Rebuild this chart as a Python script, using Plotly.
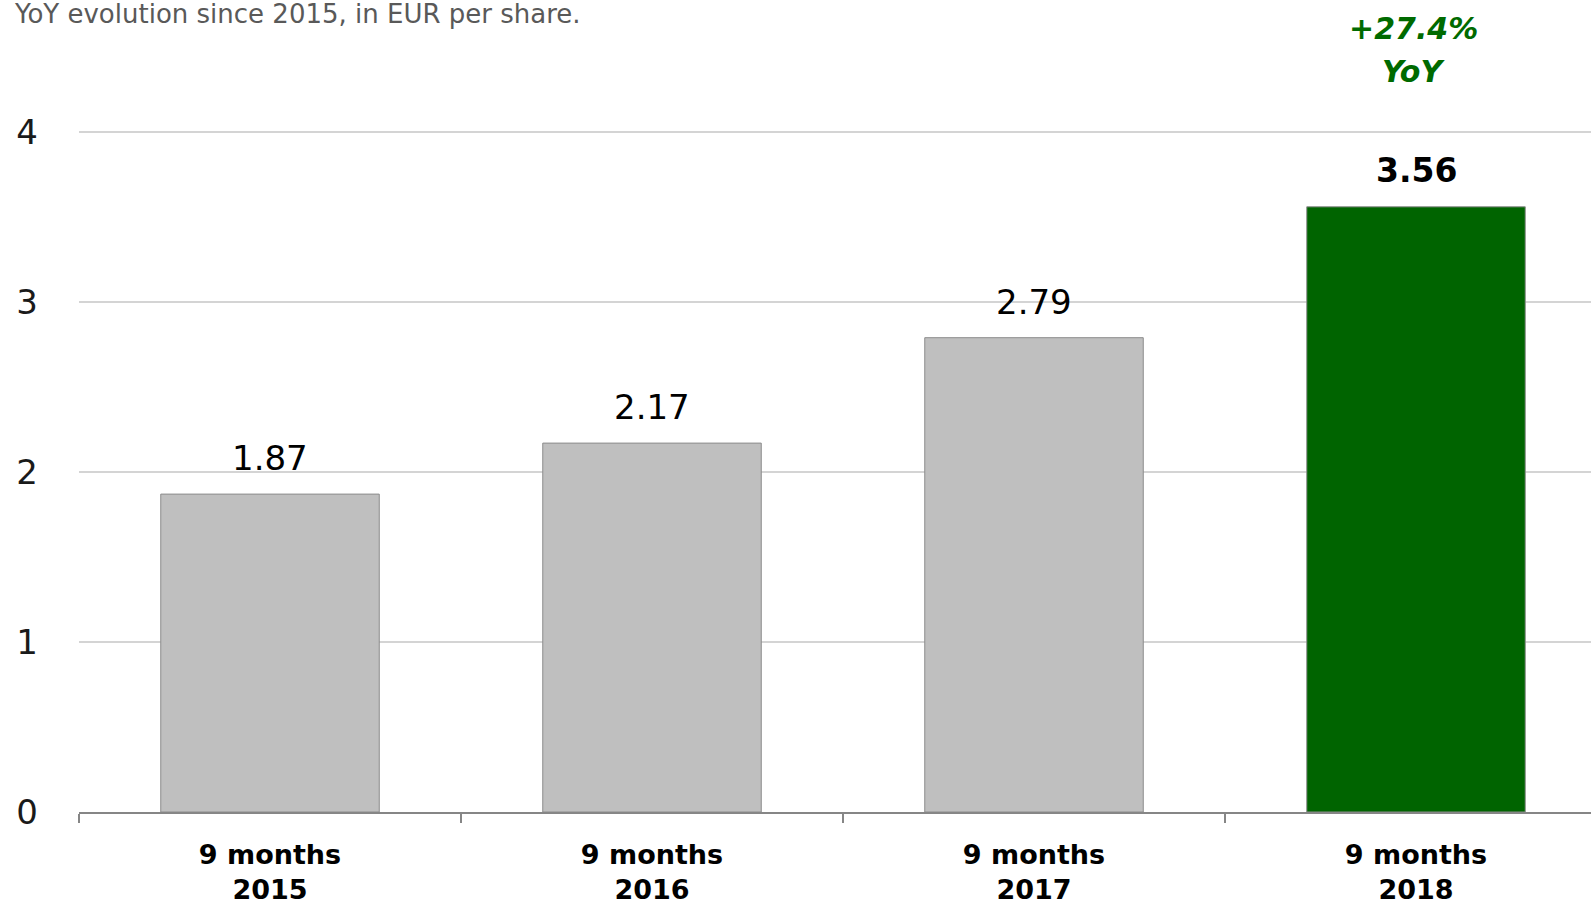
import plotly.graph_objects as go

# Earnings per share, first nine months of each year (EUR)
categories = ["9 months<br>2015", "9 months<br>2016", "9 months<br>2017", "9 months<br>2018"]
eps_values = [1.87, 2.17, 2.79, 3.56]
value_labels = ["1.87", "2.17", "2.79", "3.56"]
growth_lines = ["+27.4%", "YoY"]
subtitle = "YoY evolution since 2015, in EUR per share."
y_ticks = [0, 1, 2, 3, 4]

FONT = "DejaVu Sans"
GREY_BAR = "#bfbfbf"
GREEN_BAR = "#006400"
GREEN_TEXT = "#006a00"

W, H = 1591, 909
M_LEFT, M_BOTTOM = 79, 97
PX_PER_UNIT = 170          # vertical pixels per EUR
PX_PER_CAT = 382           # horizontal pixels per category
plot_h = H - M_BOTTOM

bar_colors = [GREY_BAR] * (len(eps_values) - 1) + [GREEN_BAR]

fig = go.Figure(
    go.Bar(
        x=categories,
        y=eps_values,
        width=0.572,
        marker=dict(color=bar_colors, line=dict(color="#8c8c8c", width=1)),
        hoverinfo="skip",
    )
)

# value labels above each bar
for i, (cat, v, lab) in enumerate(zip(categories, eps_values, value_labels)):
    last = i == len(eps_values) - 1
    fig.add_annotation(
        x=cat, y=v, xref="x", yref="y",
        text=f"<b>{lab}</b>" if last else lab,
        showarrow=False, yanchor="middle", yshift=36,
        font=dict(family=FONT, size=33 if last else 34, color="#000000"),
    )

# growth callout over the latest bar (two lines, pixel offsets from the top)
for line, y_px in zip(growth_lines, [28, 71]):
    fig.add_annotation(
        x=categories[-1], y=(plot_h - y_px) / PX_PER_UNIT, xref="x", yref="y",
        text=f"<b><i>{line}</i></b>",
        showarrow=False, yanchor="middle", xshift=-3,
        font=dict(family=FONT, size=30, color=GREEN_TEXT),
    )

# subtitle along the top edge
fig.add_annotation(
    x=(583 - M_LEFT) / (W - M_LEFT), y=1, xref="paper", yref="paper",
    text=subtitle, showarrow=False, xanchor="right", yanchor="top", yshift=3,
    font=dict(family=FONT, size=26, color="#595959"),
)

fig.update_layout(
    width=W, height=H,
    margin=dict(l=M_LEFT, r=0, t=0, b=M_BOTTOM, pad=0),
    paper_bgcolor="white", plot_bgcolor="white",
    showlegend=False,
    bargap=0.428,
    xaxis=dict(
        range=[-0.5, -0.5 + (W - M_LEFT) / PX_PER_CAT],
        showline=True, linecolor="#868686", linewidth=1.5,
        ticks="outside", ticklen=9, tickwidth=1.5, tickcolor="#868686",
        tickson="boundaries", showgrid=False,
        tickfont=dict(family=FONT, size=27, color="#000000", weight="bold"),
        ticklabelstandoff=18,
        fixedrange=True,
    ),
    yaxis=dict(
        range=[0, plot_h / PX_PER_UNIT],
        tickvals=y_ticks, ticktext=[str(t) for t in y_ticks],
        showgrid=True, gridcolor="#d4d4d4", gridwidth=1.5,
        zeroline=False, showline=False, ticks="",
        tickfont=dict(family=FONT, size=34, color="#1a1a1a"),
        ticklabelstandoff=40,
        fixedrange=True,
    ),
)

fig.write_html("out.html")
